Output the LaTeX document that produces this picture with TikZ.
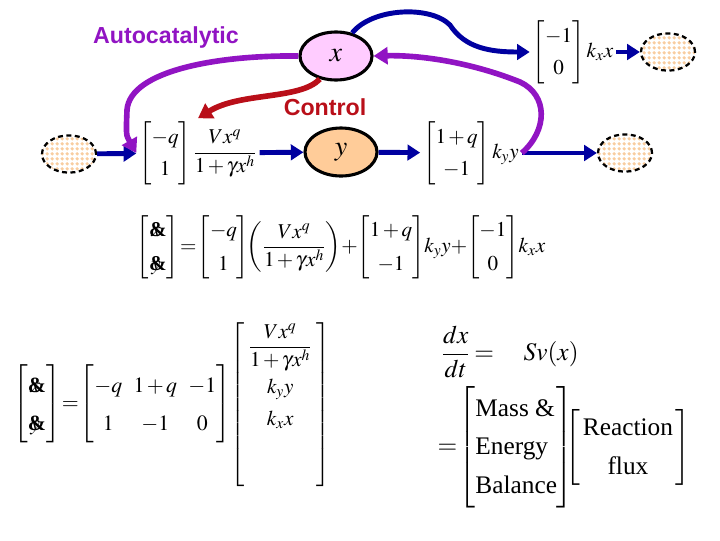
\documentclass[tikz,border=0pt]{standalone}
\usepackage{amsmath,amssymb}
\usepackage{mathtools}
\usepackage{mathptmx}
\usepackage[no-math]{fontspec}
\setmainfont{Liberation Serif}
\newfontfamily\arialfont{Liberation Sans}
\usepackage{tikz}
\usetikzlibrary{shapes.geometric,arrows.meta,patterns,positioning}
\definecolor{fblue}{RGB}{0,0,160}
\definecolor{apurple}{RGB}{145,20,195}
\definecolor{cred}{RGB}{185,15,25}
\definecolor{xpink}{RGB}{255,204,255}
\definecolor{yorange}{RGB}{255,204,153}
\definecolor{poolc}{RGB}{248,205,160}
\pgfdeclarepatternformonly{dchk}{\pgfqpoint{0pt}{0pt}}{\pgfqpoint{3.6pt}{3.6pt}}{\pgfqpoint{3.6pt}{3.6pt}}{
  \pgfpathmoveto{\pgfqpoint{1.8pt}{0.3pt}}
  \pgfpathlineto{\pgfqpoint{3.3pt}{1.8pt}}
  \pgfpathlineto{\pgfqpoint{1.8pt}{3.3pt}}
  \pgfpathlineto{\pgfqpoint{0.3pt}{1.8pt}}
  \pgfpathclose
  \pgfusepath{fill}
}
\newcommand{\xamp}{\mathrlap{\,x}\mbox{\bfseries\&}}
\newcommand{\yamp}{\mathrlap{\,y}\mbox{\bfseries\&}}
\newcommand{\tightmath}{\medmuskip=2mu\thickmuskip=3mu\arraycolsep=3pt\renewcommand{\arraystretch}{1.25}}
\tikzset{
  species/.style={ellipse,draw=black,line width=2.2pt,minimum width=1.8cm,minimum height=1.2cm,inner sep=0pt,font=\fontsize{20}{24}\selectfont},
  pool/.style={ellipse,draw=black,line width=1.6pt,dash pattern=on 3.5pt off 2.5pt,pattern=dchk,pattern color=poolc,minimum width=1.35cm,minimum height=0.93cm,inner sep=0pt},
  rxn/.style={inner sep=2pt,font=\fontsize{15}{18}\selectfont},
  flow/.style={-{Triangle[length=9pt,width=11pt]},line width=3.5pt,draw=fblue},
  reg/.style={-{Triangle[length=10pt,width=12pt]},line width=4pt},
  lbl/.style={font=\arialfont\bfseries\fontsize{16.5}{19}\selectfont},
  eqn/.style={inner sep=0pt,font=\fontsize{15}{18}\selectfont},
}
\begin{document}
\begin{tikzpicture}[x=0.025cm,y=-0.025cm]
\useasboundingbox (0,0) rectangle (720,540);
% network
\node[species,fill=xpink] (x) at (336,56) {$x$};
\node[species,fill=yorange] (y) at (341,152) {$y$};
\node[pool] (src) at (69,154) {};
\node[pool] (snkx) at (668,52) {};
\node[pool] (snky) at (625,153) {};
\node[rxn] (r1) at (198,153) {$\tightmath\begin{bmatrix}-q\\1\end{bmatrix}\dfrac{Vx^q}{1+\gamma x^h}$};
\node[rxn] (r2) at (471,153) {$\tightmath\begin{bmatrix}1+q\\-1\end{bmatrix}k_y y$};
\node[rxn] (r3) at (573,52) {$\tightmath\begin{bmatrix}-1\\0\end{bmatrix}k_x x$};
\node[lbl,text=apurple] (autolbl) at (166,37) {Autocatalytic};
\node[lbl,text=cred] (ctrllbl) at (325,107) {Control};
\draw[flow] (src) -- (r1);
\draw[flow] (r1) -- (y);
\draw[flow] (y) -- (r2);
\draw[flow] (r2) -- (snky);
\draw[flow] (r3) -- (snkx);
\draw[flow] (x.55) .. controls (372,8) and (430,5) .. (450,25) .. controls (465,48) and (490,52) .. (r3.west);
\draw[reg,apurple] (r2.east) .. controls (548,130) and (548,95) .. (520,82) .. controls (470,62) and (420,55) .. (x.east);
\draw[reg,apurple] (x.west) .. controls (220,55) and (130,70) .. (127,110) .. controls (126,135) .. (r1.west);
\draw[reg,cred] (x.235) .. controls (300,100) and (240,92) .. (r1.north);
% equations
\node[eqn] (eqa) at (341,247) {$\tightmath\arraycolsep=1pt\renewcommand{\arraystretch}{1.35}\begin{bmatrix}\xamp\\\yamp\end{bmatrix}\!=\!\begin{bmatrix}-q\\1\end{bmatrix}\!\!\left(\dfrac{Vx^q}{1+\gamma x^h}\right)\!+\!\begin{bmatrix}1+q\\-1\end{bmatrix}\!k_y y\!+\!\begin{bmatrix}-1\\0\end{bmatrix}\!k_x x$};
\node[eqn,anchor=east,font=\fontsize{15.5}{19}\selectfont] (eqb) at (231,404) {$\medmuskip=2mu\thickmuskip=3mu\arraycolsep=4pt\renewcommand{\arraystretch}{1.4}\begin{bmatrix}\xamp\\\yamp\end{bmatrix}\!=\!\begin{bmatrix}-q&1+q&-1\\1&-1&0\end{bmatrix}$};
\node[eqn,anchor=north west] (flux) at (230,322) {$\tightmath\left[\begin{array}{c}\dfrac{Vx^q}{1+\gamma x^h}\\ k_y y\\ k_x x\\[36pt]\end{array}\right]$};
\node[eqn,font=\fontsize{18}{21}\selectfont] (dxdt) at (510,352) {$\tightmath\dfrac{dx}{dt}=\quad Sv(x)$};
\node[eqn,font=\fontsize{18}{22}\selectfont] (mass) at (564,447) {$\tightmath=\!\left[\begin{array}{@{}l@{}}\text{Mass \&}\\\text{Energy}\\\text{Balance}\end{array}\right]\mspace{-8mu}\left[\begin{array}{@{\,}c@{\,}}\text{Reaction}\\\text{flux}\end{array}\right]$};
\end{tikzpicture}
\end{document}
